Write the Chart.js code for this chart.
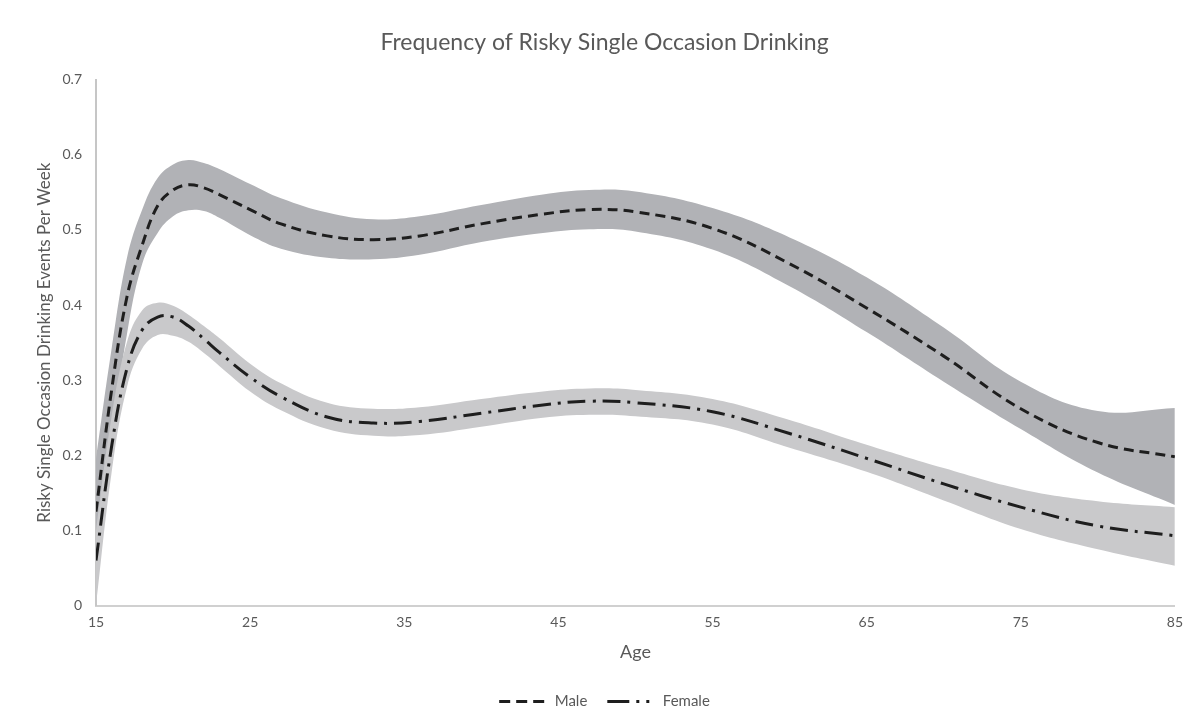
<!DOCTYPE html>
<html>
<head>
<meta charset="utf-8">
<script src="https://cdn.jsdelivr.net/npm/chart.js@4/dist/chart.umd.min.js"></script>
<style>
  html, body { margin: 0; padding: 0; background: #fff; }
  #wrap { width: 1191px; height: 721px; }
</style>
</head>
<body>
<div id="wrap"><canvas id="drink-chart"></canvas></div>
<script>
// ages
const ages = [15, 16, 17, 18, 19, 20, 21, 22, 23, 25, 27, 30, 33, 36, 40, 44, 47, 50, 55, 60, 65, 70, 75, 80, 85];

const maleMean  = [0.125, 0.285, 0.41, 0.48, 0.532, 0.553, 0.56, 0.556, 0.547, 0.527, 0.508, 0.492, 0.487, 0.492, 0.508, 0.521, 0.527, 0.524, 0.502, 0.455, 0.396, 0.332, 0.262, 0.217, 0.198];
const maleUpper = [0.195, 0.34, 0.462, 0.527, 0.569, 0.587, 0.593, 0.589, 0.581, 0.561, 0.542, 0.523, 0.514, 0.518, 0.533, 0.547, 0.553, 0.551, 0.529, 0.49, 0.437, 0.37, 0.298, 0.259, 0.263];
const maleLower = [0.065, 0.22, 0.36, 0.455, 0.496, 0.518, 0.526, 0.525, 0.516, 0.493, 0.475, 0.463, 0.461, 0.467, 0.484, 0.496, 0.501, 0.498, 0.474, 0.425, 0.364, 0.298, 0.235, 0.177, 0.134];

const femaleMean  = [0.06, 0.21, 0.315, 0.367, 0.384, 0.384, 0.372, 0.355, 0.337, 0.304, 0.278, 0.251, 0.243, 0.245, 0.256, 0.267, 0.272, 0.27, 0.258, 0.229, 0.196, 0.162, 0.131, 0.106, 0.093];
const femaleUpper = [0.1, 0.25, 0.35, 0.393, 0.403, 0.399, 0.387, 0.372, 0.356, 0.322, 0.296, 0.27, 0.262, 0.264, 0.275, 0.285, 0.289, 0.287, 0.275, 0.247, 0.214, 0.183, 0.155, 0.139, 0.131];
const femaleLower = [0.0, 0.175, 0.29, 0.342, 0.36, 0.359, 0.351, 0.336, 0.319, 0.285, 0.26, 0.235, 0.226, 0.227, 0.238, 0.25, 0.254, 0.252, 0.241, 0.21, 0.178, 0.14, 0.102, 0.075, 0.053];

const xTicks = [15, 25, 35, 45, 55, 65, 75, 85];

const toPoints = (vals) => vals.map((v, i) => ({ x: ages[i], y: v }));

const textColor = "#595959";
const fontFamily = "Lato, 'Open Sans', sans-serif";

const band = (vals, color, fill) => ({
    label: "",
    data: toPoints(vals),
    borderWidth: 0,
    pointRadius: 0,
    backgroundColor: color,
    fill: fill,
    tension: 0.4
});

new Chart(document.getElementById("drink-chart"), {
    type: "line",
    data: {
        datasets: [
            {
                label: "Male",
                data: toPoints(maleMean),
                borderColor: "#1e1e1e",
                backgroundColor: "#1e1e1e",
                borderWidth: 3,
                borderDash: [10, 6],
                pointRadius: 0,
                fill: false,
                tension: 0.4
            },
            {
                label: "Female",
                data: toPoints(femaleMean),
                borderColor: "#1e1e1e",
                backgroundColor: "#1e1e1e",
                borderWidth: 3,
                borderDash: [18, 7, 3, 7],
                pointRadius: 0,
                fill: false,
                tension: 0.4
            },
            band(femaleUpper, "#c9c9cb", "+1"),
            band(femaleLower, "#c9c9cb", false),
            band(maleUpper, "#b1b2b6", "+1"),
            band(maleLower, "#b1b2b6", false)
        ]
    },
    options: {
        responsive: true,
        maintainAspectRatio: false,
        animation: false,
        layout: { padding: { left: 34, right: 16, top: 14, bottom: 2 } },
        plugins: {
            title: {
                display: true,
                text: "Frequency of Risky Single Occasion Drinking",
                color: textColor,
                font: { family: fontFamily, size: 23, weight: "normal" },
                padding: { top: 15, bottom: 23 }
            },
            legend: {
                position: "bottom",
                labels: {
                    generateLabels: (chart) =>
                        Chart.defaults.plugins.legend.labels.generateLabels(chart)
                            .filter(item => item.text !== "")
                            .map(item => ({
                                ...item,
                                lineDash: item.datasetIndex === 0 ? [11, 6] : [22, 7, 3, 7, 3, 7],
                                lineWidth: 3
                            })),
                    usePointStyle: true,
                    pointStyle: "line",
                    pointStyleWidth: 48,
                    boxHeight: 12,
                    color: textColor,
                    font: { family: fontFamily, size: 15 },
                    padding: 20
                }
            },
            tooltip: { enabled: false }
        },
        scales: {
            x: {
                type: "linear",
                min: 15,
                max: 85,
                afterBuildTicks: (axis) => {
                    axis.ticks = xTicks.map(v => ({ value: v }));
                },
                grid: { display: false, drawTicks: false },
                border: { display: true, color: "#d0d0d0", width: 2 },
                ticks: { color: textColor, font: { family: fontFamily, size: 14 }, padding: 8 },
                title: {
                    display: true,
                    text: "Age",
                    color: textColor,
                    font: { family: fontFamily, size: 18 },
                    padding: { top: 3, bottom: 11 }
                }
            },
            y: {
                min: 0,
                max: 0.7,
                afterFit: (scale) => { scale.width = 62; },
                ticks: { stepSize: 0.1, color: textColor, font: { family: fontFamily, size: 14 }, padding: 14 },
                grid: { display: false, drawTicks: false },
                border: { display: true, color: "#c6c6c6", width: 2 },
                title: {
                    display: true,
                    text: "Risky Single Occasion Drinking Events Per Week",
                    color: textColor,
                    font: { family: fontFamily, size: 17 },
                    padding: { top: 0, bottom: 4 }
                }
            }
        }
    }
});
</script>
</body>
</html>
